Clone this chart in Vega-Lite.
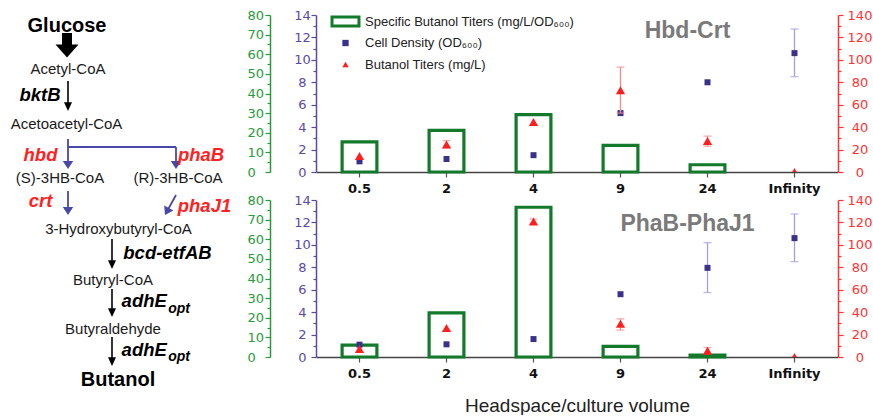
{
  "$schema": "https://vega.github.io/schema/vega-lite/v6.json",
  "background": "white",
  "padding": {"left": 0, "top": 9, "right": 0, "bottom": 0},
  "bounds": "flush",
  "spacing": 86,
  "config": {"view": {"stroke": null}, "axis": {"grid": false}, "font": "Liberation Sans"},
  "resolve": {"scale": {"color": "independent", "shape": "independent"}, "legend": {"color": "independent", "shape": "independent"}},
  "datasets": {
    "hbd": [
      {"cat": "0.5", "spec": 15.3, "od": 0.95, "bu": 14.2},
      {"cat": "2", "spec": 21.2, "od": 1.16, "bu": 24.6, "bu_lo": 21.5, "bu_hi": 28.0},
      {"cat": "4", "spec": 29.2, "od": 1.5, "bu": 44.5},
      {"cat": "9", "spec": 13.6, "od": 5.25, "bu": 73.0, "bu_lo": 52.5, "bu_hi": 93.5},
      {"cat": "24", "spec": 3.7, "od": 8.0, "bu": 27.6, "bu_lo": 23.0, "bu_hi": 32.0},
      {"cat": "Infinity", "spec": null, "od": 10.6, "od_lo": 8.5, "od_hi": 12.75, "bu": 0}
    ],
    "pha": [
      {"cat": "0.5", "spec": 6.1, "od": 1.1, "bu": 7.1},
      {"cat": "2", "spec": 22.5, "od": 1.13, "bu": 25.8},
      {"cat": "4", "spec": 76.3, "od": 1.6, "bu": 120.8, "bu_lo": 118.5, "bu_hi": 123.0},
      {"cat": "9", "spec": 5.4, "od": 5.6, "bu": 29.7, "bu_lo": 24.0, "bu_hi": 34.0},
      {"cat": "24", "spec": 1.0, "od": 7.95, "od_lo": 5.75, "od_hi": 10.2, "bu": 5.5, "bu_lo": 3.0, "bu_hi": 8.5},
      {"cat": "Infinity", "spec": null, "od": 10.6, "od_lo": 8.5, "od_hi": 12.75, "bu": 0}
    ],
    "nodes": [
      {"label": "Glucose", "x": 6.7, "y": 1.65, "kind": "substrate"},
      {"label": "Acetyl-CoA", "x": 6.8, "y": 5.9, "kind": "intermediate"},
      {"label": "Acetoacetyl-CoA", "x": 6.65, "y": 11.4, "kind": "intermediate"},
      {"label": "(S)-3HB-CoA", "x": 6.0, "y": 16.75, "kind": "intermediate"},
      {"label": "(R)-3HB-CoA", "x": 17.8, "y": 16.75, "kind": "intermediate"},
      {"label": "3-Hydroxybutyryl-CoA", "x": 11.85, "y": 21.9, "kind": "intermediate"},
      {"label": "Butyryl-CoA", "x": 11.3, "y": 27.0, "kind": "intermediate"},
      {"label": "Butyraldehyde", "x": 11.3, "y": 31.9, "kind": "intermediate"},
      {"label": "Butanol", "x": 11.8, "y": 37.1, "kind": "product"}
    ],
    "enzymes": [
      {"label": "bktB", "x": 4.0, "y": 8.57, "route": "common"},
      {"label": "hbd", "x": 4.05, "y": 14.57, "route": "Hbd-Crt"},
      {"label": "phaB", "x": 20.1, "y": 14.6, "route": "PhaB-PhaJ1"},
      {"label": "crt", "x": 4.05, "y": 19.2, "route": "Hbd-Crt"},
      {"label": "phaJ1", "x": 20.45, "y": 19.65, "route": "PhaB-PhaJ1"},
      {"label": "bcd-etfAB", "x": 16.75, "y": 24.4, "route": "common"},
      {"label": "adhE", "x": 14.42, "y": 29.2, "route": "common"},
      {"label": "adhE", "x": 14.42, "y": 34.1, "route": "common"}
    ],
    "subs": [
      {"label": "opt", "x": 17.9, "y": 29.75},
      {"label": "opt", "x": 17.9, "y": 34.6}
    ],
    "arrows": [
      {"kind": "uptake", "x": 6.7, "y": 1.8, "x2": 6.7, "y2": 3.1},
      {"kind": "common", "x": 6.8, "y": 6.6, "x2": 6.8, "y2": 9.2},
      {"kind": "engineered", "x": 6.8, "y": 12.4, "x2": 6.8, "y2": 15.0},
      {"kind": "engineered", "x": 6.8, "y": 13.2, "x2": 17.6, "y2": 13.2},
      {"kind": "engineered", "x": 17.6, "y": 13.2, "x2": 17.6, "y2": 15.0},
      {"kind": "engineered", "x": 6.8, "y": 17.6, "x2": 6.8, "y2": 19.6},
      {"kind": "engineered", "x": 17.6, "y": 18.0, "x2": 16.69, "y2": 19.65},
      {"kind": "common", "x": 11.2, "y": 22.4, "x2": 11.2, "y2": 24.96},
      {"kind": "common", "x": 11.2, "y": 27.4, "x2": 11.2, "y2": 29.76},
      {"kind": "common", "x": 11.2, "y": 32.2, "x2": 11.2, "y2": 34.66}
    ],
    "heads": [
      {"kind": "uptake", "enzyme": "uptake", "x": 6.7, "y": 3.6},
      {"kind": "common", "enzyme": "bktB", "x": 6.8, "y": 9.16},
      {"kind": "engineered", "enzyme": "hbd", "x": 6.8, "y": 15.0},
      {"kind": "engineered", "enzyme": "phaB", "x": 17.6, "y": 15.0},
      {"kind": "engineered", "enzyme": "crt", "x": 6.8, "y": 19.6},
      {"kind": "engineered", "enzyme": "phaJ1", "x": 16.69, "y": 19.65},
      {"kind": "common", "enzyme": "bcd-etfAB", "x": 11.2, "y": 24.96},
      {"kind": "common", "enzyme": "adhE", "x": 11.2, "y": 29.76},
      {"kind": "common", "enzyme": "adhE", "x": 11.2, "y": 34.66}
    ]
  },
  "hconcat": [
    {
      "width": 230,
      "height": 372,
      "layer": [
        {"data": {"name": "arrows"}, "transform": [{"filter": "datum.kind === 'uptake'"}],
         "mark": {"type": "rule", "color": "#000000", "strokeWidth": 10, "strokeCap": "butt"},
         "encoding": {"x": {"field": "x", "type": "quantitative", "scale": {"domain": [0, 23], "nice": false, "zero": false}, "axis": null},
                      "y": {"field": "y", "type": "quantitative", "scale": {"domain": [0, 37.2], "nice": false, "zero": false, "reverse": true}, "axis": null},
                      "x2": {"field": "x2"}, "y2": {"field": "y2"}}},
        {"data": {"name": "arrows"}, "transform": [{"filter": "datum.kind === 'common'"}],
         "mark": {"type": "rule", "color": "#000000", "strokeWidth": 1.6},
         "encoding": {"x": {"field": "x", "type": "quantitative"}, "y": {"field": "y", "type": "quantitative"}, "x2": {"field": "x2"}, "y2": {"field": "y2"}}},
        {"data": {"name": "arrows"}, "transform": [{"filter": "datum.kind === 'engineered'"}],
         "mark": {"type": "rule", "color": "#4a48a6", "strokeWidth": 1.8},
         "encoding": {"x": {"field": "x", "type": "quantitative"}, "y": {"field": "y", "type": "quantitative"}, "x2": {"field": "x2"}, "y2": {"field": "y2"}}},
        {"data": {"name": "heads"}, "transform": [{"filter": "datum.kind === 'uptake'"}],
         "mark": {"type": "point", "filled": true, "opacity": 1, "color": "#000000", "shape": "M-1,-0.57L1,-0.57L0,0.57Z", "size": 529},
         "encoding": {"x": {"field": "x", "type": "quantitative"}, "y": {"field": "y", "type": "quantitative"}}},
        {"data": {"name": "heads"}, "transform": [{"filter": "datum.kind === 'common'"}],
         "mark": {"type": "point", "filled": true, "opacity": 1, "color": "#000000", "shape": "M-1,-1.1L1,-1.1L0,1.1Z", "size": 64},
         "encoding": {"x": {"field": "x", "type": "quantitative"}, "y": {"field": "y", "type": "quantitative"}}},
        {"data": {"name": "heads"}, "transform": [{"filter": "datum.kind === 'engineered' && datum.enzyme !== 'phaJ1'"}],
         "mark": {"type": "point", "filled": true, "opacity": 1, "color": "#4a48a6", "shape": "M-1,-0.75L1,-0.75L0,0.75Z", "size": 110},
         "encoding": {"x": {"field": "x", "type": "quantitative"}, "y": {"field": "y", "type": "quantitative"}}},
        {"data": {"name": "heads"}, "transform": [{"filter": "datum.enzyme === 'phaJ1'"}],
         "mark": {"type": "point", "filled": true, "opacity": 1, "color": "#4a48a6", "shape": "M-1,-0.75L1,-0.75L0,0.75Z", "size": 110, "angle": 29},
         "encoding": {"x": {"field": "x", "type": "quantitative"}, "y": {"field": "y", "type": "quantitative"}}},
        {"data": {"name": "nodes"}, "transform": [{"filter": "datum.kind === 'intermediate'"}],
         "mark": {"type": "text", "font": "Liberation Sans", "fontSize": 15, "color": "#1a1a1a", "align": "center", "baseline": "alphabetic"},
         "encoding": {"x": {"field": "x", "type": "quantitative"}, "y": {"field": "y", "type": "quantitative"}, "text": {"field": "label"}}},
        {"data": {"name": "nodes"}, "transform": [{"filter": "datum.kind !== 'intermediate'"}],
         "mark": {"type": "text", "font": "Liberation Sans", "fontSize": 20, "fontWeight": "bold", "color": "#000000", "align": "center", "baseline": "alphabetic"},
         "encoding": {"x": {"field": "x", "type": "quantitative"}, "y": {"field": "y", "type": "quantitative"}, "text": {"field": "label"}}},
        {"data": {"name": "enzymes"}, "transform": [{"filter": "datum.route === 'common'"}],
         "mark": {"type": "text", "font": "Liberation Sans", "fontSize": 18.5, "fontWeight": "bold", "fontStyle": "italic", "color": "#000000", "align": "center", "baseline": "alphabetic"},
         "encoding": {"x": {"field": "x", "type": "quantitative"}, "y": {"field": "y", "type": "quantitative"}, "text": {"field": "label"}}},
        {"data": {"name": "enzymes"}, "transform": [{"filter": "datum.route !== 'common'"}],
         "mark": {"type": "text", "font": "Liberation Sans", "fontSize": 18.5, "fontWeight": "bold", "fontStyle": "italic", "color": "#ff2222", "align": "center", "baseline": "alphabetic"},
         "encoding": {"x": {"field": "x", "type": "quantitative"}, "y": {"field": "y", "type": "quantitative"}, "text": {"field": "label"}}},
        {"data": {"name": "subs"},
         "mark": {"type": "text", "font": "Liberation Sans", "fontSize": 14, "fontWeight": "bold", "fontStyle": "italic", "color": "#000000", "align": "center", "baseline": "alphabetic"},
         "encoding": {"x": {"field": "x", "type": "quantitative"}, "y": {"field": "y", "type": "quantitative"}, "text": {"field": "label"}}}
      ]
    },
    {
      "spacing": 28,
      "bounds": "flush",
      "resolve": {"scale": {"color": "independent", "shape": "independent"}, "legend": {"color": "independent", "shape": "independent"}},
      "vconcat": [
        {
          "width": 522,
          "height": 157,
          "data": {"name": "hbd"},
          "resolve": {"scale": {"y": "independent"}, "axis": {"y": "independent"}},
          "layer": [
            {"transform": [{"filter": "isValid(datum.spec)"}],
             "mark": {"type": "bar", "fill": "transparent", "stroke": "#137a2b", "strokeWidth": 3.2, "width": {"band": 0.4}},
             "encoding": {
               "x": {"field": "cat", "type": "nominal", "sort": null, "scale": {"type": "band", "domain": ["0.5", "2", "4", "9", "24", "Infinity"], "paddingInner": 0, "paddingOuter": 0},
                     "axis": {"title": null, "labelAngle": 0, "labelFont": "DejaVu Sans", "labelFontWeight": "bold", "labelFontSize": 13, "labelColor": "#111111", "labelPadding": 5, "tickSize": 5, "tickColor": "#555555", "tickWidth": 1.2, "domainColor": "#444444", "domainWidth": 1.5}},
               "y": {"field": "spec", "type": "quantitative", "scale": {"domain": [0, 80], "nice": false},
                     "axis": {"orient": "left", "offset": 46, "title": null, "values": [0, 5, 10, 15, 20, 25, 30, 35, 40, 45, 50, 55, 60, 65, 70, 75, 80], "labelExpr": "datum.value % 10 === 0 ? datum.label : ''", "tickSize": {"condition": {"test": "datum.value % 10 !== 0", "value": 3}, "value": 5}, "labelFont": "DejaVu Sans", "labelFontSize": 13, "labelColor": "#2a9a3a", "tickColor": "#2a9a3a", "domainColor": "#2a9a3a", "domainWidth": 1.5, "tickWidth": 1.2, "labelAlign": "left", "labelPadding": 18, "labelOverlap": false, "labelFlush": false}}
             }},
            {"layer": [
              {"transform": [{"filter": "isValid(datum.od_lo)"}],
               "mark": {"type": "errorbar", "ticks": true, "size": 8, "thickness": 1.3, "color": "#a99be0"},
               "encoding": {
                 "x": {"field": "cat", "type": "nominal", "sort": null},
                 "y": {"field": "od_lo", "type": "quantitative", "scale": {"domain": [0, 14], "nice": false},
                       "axis": {"orient": "left", "title": null, "values": [0, 1, 2, 3, 4, 5, 6, 7, 8, 9, 10, 11, 12, 13, 14], "labelExpr": "datum.value % 2 === 0 ? datum.label : ''", "tickSize": {"condition": {"test": "datum.value % 2 !== 0", "value": 3}, "value": 5}, "labelFont": "DejaVu Sans", "labelFontSize": 13, "labelColor": "#5a4aa6", "tickColor": "#5a4aa6", "domainColor": "#5a4aa6", "domainWidth": 1.5, "tickWidth": 1.2, "labelAlign": "center", "labelPadding": 9, "labelOverlap": false, "labelFlush": false}},
                 "y2": {"field": "od_hi"}
               }},
              {"mark": {"type": "point", "filled": true, "opacity": 1, "size": 36},
               "encoding": {
                 "x": {"field": "cat", "type": "nominal", "sort": null},
                 "y": {"field": "od", "type": "quantitative", "scale": {"domain": [0, 14], "nice": false},
                       "axis": {"orient": "left", "title": null, "values": [0, 1, 2, 3, 4, 5, 6, 7, 8, 9, 10, 11, 12, 13, 14], "labelExpr": "datum.value % 2 === 0 ? datum.label : ''", "tickSize": {"condition": {"test": "datum.value % 2 !== 0", "value": 3}, "value": 5}, "labelFont": "DejaVu Sans", "labelFontSize": 13, "labelColor": "#5a4aa6", "tickColor": "#5a4aa6", "domainColor": "#5a4aa6", "domainWidth": 1.5, "tickWidth": 1.2, "labelAlign": "center", "labelPadding": 9, "labelOverlap": false, "labelFlush": false}},
                 "color": {"datum": "Cell Density (OD₆₀₀)", "type": "nominal",
                           "scale": {"domain": ["Specific Butanol Titers (mg/L/OD₆₀₀)", "Cell Density (OD₆₀₀)", "Butanol Titers (mg/L)"], "range": ["#137a2b", "#3a3189", "#ff1f1f"]},
                           "legend": {"orient": "none", "legendX": 23, "legendY": 0, "title": null, "padding": 0, "labelFont": "Liberation Sans", "labelFontSize": 13, "labelColor": "#222222", "labelLimit": 400, "symbolSize": 40, "rowPadding": 7.5, "labelOffset": 13, "symbolOffset": 0, "symbolOpacity": 1}},
                 "shape": {"datum": "Cell Density (OD₆₀₀)", "type": "nominal",
                           "scale": {"domain": ["Specific Butanol Titers (mg/L/OD₆₀₀)", "Cell Density (OD₆₀₀)", "Butanol Titers (mg/L)"], "range": ["M-4.74,-1.9H4.74V1.9H-4.74ZM-3.79,-0.95V0.95H3.79V-0.95Z", "square", "triangle-up"]},
                           "legend": {"orient": "none", "legendX": 23, "legendY": 0, "title": null, "padding": 0, "labelFont": "Liberation Sans", "labelFontSize": 13, "labelColor": "#222222", "labelLimit": 400, "symbolSize": 40, "rowPadding": 7.5, "labelOffset": 13, "symbolOffset": 0, "symbolOpacity": 1}}
               }},
              {"data": {"values": [{}]},
               "mark": {"type": "text", "text": "Hbd-Crt", "font": "Liberation Sans", "fontSize": 23, "fontWeight": "bold", "color": "#7a7a7a", "align": "center", "baseline": "alphabetic", "dx": -20},
               "encoding": {"x": {"datum": "24", "type": "nominal"},
                            "y": {"datum": 11.95, "type": "quantitative", "scale": {"domain": [0, 14], "nice": false},
                                  "axis": {"orient": "left", "title": null, "values": [0, 1, 2, 3, 4, 5, 6, 7, 8, 9, 10, 11, 12, 13, 14], "labelExpr": "datum.value % 2 === 0 ? datum.label : ''", "tickSize": {"condition": {"test": "datum.value % 2 !== 0", "value": 3}, "value": 5}, "labelFont": "DejaVu Sans", "labelFontSize": 13, "labelColor": "#5a4aa6", "tickColor": "#5a4aa6", "domainColor": "#5a4aa6", "domainWidth": 1.5, "tickWidth": 1.2, "labelAlign": "center", "labelPadding": 9, "labelOverlap": false, "labelFlush": false}}}}
            ]},
            {"layer": [
              {"transform": [{"filter": "isValid(datum.bu_lo)"}],
               "mark": {"type": "errorbar", "ticks": true, "size": 8, "thickness": 1.3, "color": "#f28c8c"},
               "encoding": {
                 "x": {"field": "cat", "type": "nominal", "sort": null},
                 "y": {"field": "bu_lo", "type": "quantitative", "scale": {"domain": [0, 140], "nice": false},
                       "axis": {"orient": "right", "title": null, "values": [0, 10, 20, 30, 40, 50, 60, 70, 80, 90, 100, 110, 120, 130, 140], "labelExpr": "datum.value % 20 === 0 ? datum.label : ''", "tickSize": {"condition": {"test": "datum.value % 20 !== 0", "value": 3}, "value": 5}, "labelFont": "DejaVu Sans", "labelFontSize": 13, "labelColor": "#ff3333", "tickColor": "#ff3333", "domainColor": "#ff3333", "domainWidth": 1.5, "tickWidth": 1.2, "labelAlign": "center", "labelPadding": 16.5, "labelOverlap": false, "labelFlush": false}},
                 "y2": {"field": "bu_hi"}
               }},
              {"mark": {"type": "point", "filled": true, "opacity": 1, "size": 85, "clip": true},
               "encoding": {
                 "x": {"field": "cat", "type": "nominal", "sort": null},
                 "y": {"field": "bu", "type": "quantitative", "scale": {"domain": [0, 140], "nice": false},
                       "axis": {"orient": "right", "title": null, "values": [0, 10, 20, 30, 40, 50, 60, 70, 80, 90, 100, 110, 120, 130, 140], "labelExpr": "datum.value % 20 === 0 ? datum.label : ''", "tickSize": {"condition": {"test": "datum.value % 20 !== 0", "value": 3}, "value": 5}, "labelFont": "DejaVu Sans", "labelFontSize": 13, "labelColor": "#ff3333", "tickColor": "#ff3333", "domainColor": "#ff3333", "domainWidth": 1.5, "tickWidth": 1.2, "labelAlign": "center", "labelPadding": 16.5, "labelOverlap": false, "labelFlush": false}},
                 "color": {"datum": "Butanol Titers (mg/L)", "type": "nominal"},
                 "shape": {"datum": "Butanol Titers (mg/L)", "type": "nominal"}
               }}
            ]}
          ]
        },
        {
          "width": 522,
          "height": 157,
          "data": {"name": "pha"},
          "resolve": {"scale": {"y": "independent"}, "axis": {"y": "independent"}},
          "layer": [
            {"transform": [{"filter": "isValid(datum.spec)"}],
             "mark": {"type": "bar", "fill": "transparent", "stroke": "#137a2b", "strokeWidth": 3.2, "width": {"band": 0.4}},
             "encoding": {
               "x": {"field": "cat", "type": "nominal", "sort": null, "scale": {"type": "band", "domain": ["0.5", "2", "4", "9", "24", "Infinity"], "paddingInner": 0, "paddingOuter": 0},
                     "axis": {"title": "Headspace/culture volume", "titleFont": "Liberation Sans", "titleFontSize": 19, "titleFontWeight": "normal", "titleColor": "#222222", "titlePadding": 16, "labelAngle": 0, "labelFont": "DejaVu Sans", "labelFontWeight": "bold", "labelFontSize": 13, "labelColor": "#111111", "labelPadding": 5, "tickSize": 5, "tickColor": "#555555", "tickWidth": 1.2, "domainColor": "#444444", "domainWidth": 1.5}},
               "y": {"field": "spec", "type": "quantitative", "scale": {"domain": [0, 80], "nice": false},
                     "axis": {"orient": "left", "offset": 46, "title": null, "values": [0, 5, 10, 15, 20, 25, 30, 35, 40, 45, 50, 55, 60, 65, 70, 75, 80], "labelExpr": "datum.value % 10 === 0 ? datum.label : ''", "tickSize": {"condition": {"test": "datum.value % 10 !== 0", "value": 3}, "value": 5}, "labelFont": "DejaVu Sans", "labelFontSize": 13, "labelColor": "#2a9a3a", "tickColor": "#2a9a3a", "domainColor": "#2a9a3a", "domainWidth": 1.5, "tickWidth": 1.2, "labelAlign": "left", "labelPadding": 18, "labelOverlap": false, "labelFlush": false}}
             }},
            {"layer": [
              {"transform": [{"filter": "isValid(datum.od_lo)"}],
               "mark": {"type": "errorbar", "ticks": true, "size": 8, "thickness": 1.3, "color": "#a99be0"},
               "encoding": {
                 "x": {"field": "cat", "type": "nominal", "sort": null},
                 "y": {"field": "od_lo", "type": "quantitative", "scale": {"domain": [0, 14], "nice": false},
                       "axis": {"orient": "left", "title": null, "values": [0, 1, 2, 3, 4, 5, 6, 7, 8, 9, 10, 11, 12, 13, 14], "labelExpr": "datum.value % 2 === 0 ? datum.label : ''", "tickSize": {"condition": {"test": "datum.value % 2 !== 0", "value": 3}, "value": 5}, "labelFont": "DejaVu Sans", "labelFontSize": 13, "labelColor": "#5a4aa6", "tickColor": "#5a4aa6", "domainColor": "#5a4aa6", "domainWidth": 1.5, "tickWidth": 1.2, "labelAlign": "center", "labelPadding": 9, "labelOverlap": false, "labelFlush": false}},
                 "y2": {"field": "od_hi"}
               }},
              {"mark": {"type": "point", "filled": true, "opacity": 1, "size": 36, "shape": "square", "color": "#3a3189"},
               "encoding": {
                 "x": {"field": "cat", "type": "nominal", "sort": null},
                 "y": {"field": "od", "type": "quantitative", "scale": {"domain": [0, 14], "nice": false},
                       "axis": {"orient": "left", "title": null, "values": [0, 1, 2, 3, 4, 5, 6, 7, 8, 9, 10, 11, 12, 13, 14], "labelExpr": "datum.value % 2 === 0 ? datum.label : ''", "tickSize": {"condition": {"test": "datum.value % 2 !== 0", "value": 3}, "value": 5}, "labelFont": "DejaVu Sans", "labelFontSize": 13, "labelColor": "#5a4aa6", "tickColor": "#5a4aa6", "domainColor": "#5a4aa6", "domainWidth": 1.5, "tickWidth": 1.2, "labelAlign": "center", "labelPadding": 9, "labelOverlap": false, "labelFlush": false}}
               }},
              {"data": {"values": [{}]},
               "mark": {"type": "text", "text": "PhaB-PhaJ1", "font": "Liberation Sans", "fontSize": 23, "fontWeight": "bold", "color": "#7a7a7a", "align": "center", "baseline": "alphabetic", "dx": -20},
               "encoding": {"x": {"datum": "24", "type": "nominal"},
                            "y": {"datum": 11.24, "type": "quantitative", "scale": {"domain": [0, 14], "nice": false},
                                  "axis": {"orient": "left", "title": null, "values": [0, 1, 2, 3, 4, 5, 6, 7, 8, 9, 10, 11, 12, 13, 14], "labelExpr": "datum.value % 2 === 0 ? datum.label : ''", "tickSize": {"condition": {"test": "datum.value % 2 !== 0", "value": 3}, "value": 5}, "labelFont": "DejaVu Sans", "labelFontSize": 13, "labelColor": "#5a4aa6", "tickColor": "#5a4aa6", "domainColor": "#5a4aa6", "domainWidth": 1.5, "tickWidth": 1.2, "labelAlign": "center", "labelPadding": 9, "labelOverlap": false, "labelFlush": false}}}}
            ]},
            {"layer": [
              {"transform": [{"filter": "isValid(datum.bu_lo)"}],
               "mark": {"type": "errorbar", "ticks": true, "size": 8, "thickness": 1.3, "color": "#f28c8c"},
               "encoding": {
                 "x": {"field": "cat", "type": "nominal", "sort": null},
                 "y": {"field": "bu_lo", "type": "quantitative", "scale": {"domain": [0, 140], "nice": false},
                       "axis": {"orient": "right", "title": null, "values": [0, 10, 20, 30, 40, 50, 60, 70, 80, 90, 100, 110, 120, 130, 140], "labelExpr": "datum.value % 20 === 0 ? datum.label : ''", "tickSize": {"condition": {"test": "datum.value % 20 !== 0", "value": 3}, "value": 5}, "labelFont": "DejaVu Sans", "labelFontSize": 13, "labelColor": "#ff3333", "tickColor": "#ff3333", "domainColor": "#ff3333", "domainWidth": 1.5, "tickWidth": 1.2, "labelAlign": "center", "labelPadding": 16.5, "labelOverlap": false, "labelFlush": false}},
                 "y2": {"field": "bu_hi"}
               }},
              {"mark": {"type": "point", "filled": true, "opacity": 1, "size": 85, "shape": "triangle-up", "color": "#ff1f1f", "clip": true},
               "encoding": {
                 "x": {"field": "cat", "type": "nominal", "sort": null},
                 "y": {"field": "bu", "type": "quantitative", "scale": {"domain": [0, 140], "nice": false},
                       "axis": {"orient": "right", "title": null, "values": [0, 10, 20, 30, 40, 50, 60, 70, 80, 90, 100, 110, 120, 130, 140], "labelExpr": "datum.value % 20 === 0 ? datum.label : ''", "tickSize": {"condition": {"test": "datum.value % 20 !== 0", "value": 3}, "value": 5}, "labelFont": "DejaVu Sans", "labelFontSize": 13, "labelColor": "#ff3333", "tickColor": "#ff3333", "domainColor": "#ff3333", "domainWidth": 1.5, "tickWidth": 1.2, "labelAlign": "center", "labelPadding": 16.5, "labelOverlap": false, "labelFlush": false}}
               }}
            ]}
          ]
        }
      ]
    }
  ]
}
